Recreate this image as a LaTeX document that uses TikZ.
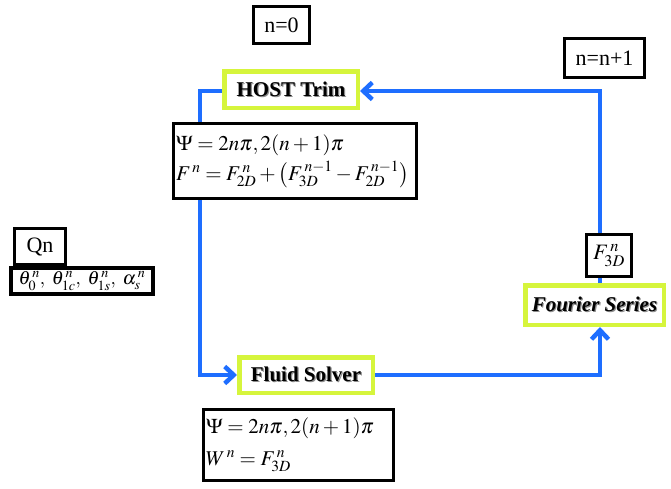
\documentclass[tikz,border=0pt]{standalone}
\usepackage{mathptmx}
\usepackage{fontspec}
\setmainfont{Liberation Serif}
\usetikzlibrary{arrows.meta,shadows}

\definecolor{flowblue}{RGB}{30,110,255}
\definecolor{limeedge}{RGB}{214,245,60}

% bold label with a faint grey offset copy behind it
\newcommand\shadelabel[1]{\makebox[0pt][l]{\hspace{1.2pt}\raisebox{-1.2pt}{\color{black!45}#1}}#1}

\tikzset{
  infobox/.style={draw=black, line width=3.5pt, fill=white, inner sep=3pt,
    drop shadow={shadow xshift=1.5pt, shadow yshift=-1.5pt, fill=black!55, opacity=1},
    font=\fontsize{22}{26}\selectfont},
  stagebox/.style={draw=limeedge, line width=4.5pt, fill=white, inner sep=2pt,
    font=\fontsize{21}{25}\selectfont\bfseries},
  flow/.style={draw=flowblue, line width=4.5pt, line join=miter,
    -{Straight Barb[length=9pt,width=17pt]}},
}

\begin{document}
\begin{tikzpicture}[x=1pt,y=1pt]
\useasboundingbox (0,0) rectangle (671,-488);

% iteration counters
\node[infobox, minimum width=56pt, minimum height=37pt] (nzero) at (281.5,-25) {n=0};
\node[infobox, minimum width=80pt, minimum height=39pt] (nnext) at (604.5,-58) {n=n+1};

% solver stages
\node[stagebox, minimum width=133.5pt, minimum height=36.5pt] (host) at (291,-89.5) {\shadelabel{HOST Trim}};
\node[stagebox, minimum width=133.5pt, minimum height=35.5pt] (fluid) at (306,-375) {\shadelabel{Fluid Solver}};
\node[stagebox, minimum width=138.5pt, minimum height=39.5pt] (fourier) at (594.5,-305) {\shadelabel{\itshape Fourier Series}};

% loop connectors
\coordinate (lefttop) at (200,-91);
\coordinate (leftbot) at (200,-375);
\coordinate (rightbot) at (600,-375);
\coordinate (righttop) at (600,-91);
\draw[flow] (host.west |- lefttop) -- (lefttop) -- (leftbot) -- (fluid.west);
\draw[flow] (fluid.east) -- (rightbot) -- (rightbot |- fourier.south);
\draw[flow] (righttop |- fourier.north) -- (righttop) -- (host.east |- righttop);

% data boxes
\node[infobox, align=left, minimum width=243pt, minimum height=75pt, text width=238pt,
      inner sep=1.5pt, font=\fontsize{21}{30}\selectfont] (trimeq) at (295,-161)
  {$\Psi = 2n\pi, 2(n+1)\pi$\\
   $F^{\,n} = F^{\,n}_{2D} + \bigl(F^{\,n-1}_{3D} - F^{\,n-1}_{2D}\bigr)$};
\node[infobox, align=left, minimum width=190pt, minimum height=71pt, text width=185pt,
      inner sep=1.5pt, font=\fontsize{21}{32}\selectfont] (fluideq) at (298.5,-445)
  {$\Psi = 2n\pi, 2(n+1)\pi$\\
   $W^{\,n} = F^{\,n}_{3D}$};
\node[infobox, minimum width=45pt, minimum height=42pt, inner sep=1pt] (fload) at (609,-255.5) {$F^{\,n}_{3D}$};

% control inputs
\node[infobox, minimum width=51pt, minimum height=36pt] (qn) at (40,-246.5) {Qn};
\node[infobox, minimum width=142pt, minimum height=26pt, inner sep=1pt,
      font=\fontsize{19}{22}\selectfont] (ctrl) at (82,-281)
  {$\theta^{\,n}_{0},\ \theta^{\,n}_{1c},\ \theta^{\,n}_{1s},\ \alpha^{\,n}_{s}$};
\end{tikzpicture}
\end{document}
